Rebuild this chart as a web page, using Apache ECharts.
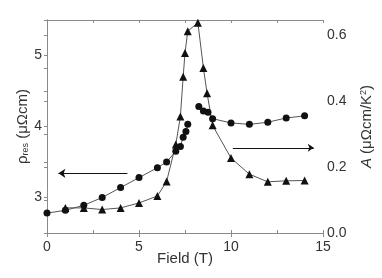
<!DOCTYPE html>
<html>
<head>
<meta charset="utf-8">
<script src="https://cdn.jsdelivr.net/npm/echarts@6/dist/echarts.min.js"></script>
<style>html,body{margin:0;padding:0;background:#fff;}#c{width:382px;height:278px;}</style>
</head>
<body>
<div id="c"></div>
<script>
// Residual resistivity (left axis, circles)
const fieldRho = [0, 1, 2, 3, 4, 5, 6, 6.5, 7, 7.25, 7.4, 7.55, 7.65, 7.9, 8.25, 8.5, 8.75, 9, 10, 11, 12, 13, 14];
const rhoRes   = [2.78, 2.82, 2.89, 3.00, 3.14, 3.28, 3.42, 3.50, 3.65, 3.72, 3.85, 3.93, 4.03, null, 4.28, 4.22, 4.20, 4.11, 4.05, 4.03, 4.06, 4.12, 4.15];
// Coefficient A (right axis, triangles)
const fieldA = [1, 2, 3, 4, 5, 6, 6.5, 7, 7.25, 7.4, 7.5, 7.65, 8.2, 8.5, 8.7, 9, 10, 11, 12, 13, 14];
const coefA  = [0.076, 0.076, 0.071, 0.076, 0.091, 0.112, 0.156, 0.268, 0.353, 0.473, 0.545, 0.611, 0.637, 0.500, 0.423, 0.326, 0.227, 0.178, 0.155, 0.158, 0.159];
// Arrows: [xStart, xEnd, y]
const arrowLeft  = [4.37, 0.62, 3.34];
const arrowRight = [10.1, 14.5, 0.258];
// Axis ranges / ticks
const xTicks = [0, 15, 5];
const yLeftRange = [2.5, 5.5, 0.5];
const yRightRange = [0, 0.645, 0.1];

const FONT = "'Liberation Sans', Arial, sans-serif";
const AX = '#8a8a8a';
const TXT = '#333';

const rhoData = fieldRho.map((x, i) => [x, rhoRes[i] === null ? '-' : rhoRes[i]]);
const aData = fieldA.map((x, i) => [x, coefA[i]]);

const chart = echarts.init(document.getElementById('c'), null, {renderer: 'canvas'});
chart.setOption({
  animation: false,
  backgroundColor: '#fff',
  grid: {left: 47, right: 54, top: 20, bottom: 45, containLabel: false},
  xAxis: [
    {
      type: 'value', min: xTicks[0], max: xTicks[1], interval: xTicks[2], position: 'bottom',
      name: 'Field (T)', nameLocation: 'middle', nameGap: 18, nameMoveOverlap: false,
      nameTextStyle: {color: TXT, fontSize: 15, fontFamily: FONT},
      axisLine: {lineStyle: {color: AX, width: 1}},
      axisTick: {show: true, inside: false, length: 4, lineStyle: {color: AX}},
      axisLabel: {color: TXT, fontSize: 14, fontFamily: FONT, margin: 7},
      splitLine: {show: false}
    },
    {
      type: 'value', min: xTicks[0], max: xTicks[1], interval: 2.5, position: 'bottom',
      axisLine: {show: false},
      axisTick: {show: true, inside: true, length: 3, lineStyle: {color: AX}},
      axisLabel: {show: false}, splitLine: {show: false}
    },
    {
      type: 'value', min: xTicks[0], max: xTicks[1], interval: 2.5, position: 'top',
      axisLine: {show: true, lineStyle: {color: AX, width: 1}},
      axisTick: {show: true, inside: true, length: 3, lineStyle: {color: AX}},
      axisLabel: {show: false}, splitLine: {show: false}
    }
  ],
  yAxis: [
    {
      type: 'value', min: yLeftRange[0], max: yLeftRange[1], interval: yLeftRange[2], position: 'left',
      name: 'ρ{sub|res} (μΩcm)', nameLocation: 'middle', nameGap: 17, nameRotate: 90, nameMoveOverlap: false,
      nameTextStyle: {color: TXT, fontSize: 15, fontFamily: FONT,
        rich: {sub: {fontSize: 9, fontFamily: FONT, color: TXT, verticalAlign: 'bottom', padding: [6, 0, 0, 0]}}},
      axisLine: {show: true, lineStyle: {color: AX, width: 1}},
      axisTick: {show: true, inside: false, length: 3, lineStyle: {color: AX}},
      axisLabel: {color: TXT, fontSize: 14, fontFamily: FONT, margin: 5,
        formatter: v => Math.abs(v - Math.round(v)) < 1e-6 ? String(Math.round(v)) : ''},
      splitLine: {show: false}
    },
    {
      type: 'value', min: yRightRange[0], max: yRightRange[1], interval: yRightRange[2], position: 'right',
      name: '{i|A} (μΩcm/K{sup|2})', nameLocation: 'middle', nameGap: 36, nameRotate: 90, nameMoveOverlap: false,
      nameTextStyle: {color: TXT, fontSize: 15, fontFamily: FONT,
        rich: {
          i: {fontStyle: 'italic', fontSize: 15, fontFamily: FONT, color: TXT},
          sup: {fontSize: 9, fontFamily: FONT, color: TXT, verticalAlign: 'top', padding: [0, 0, 6, 0]}
        }},
      axisLine: {show: true, lineStyle: {color: AX, width: 1}},
      axisTick: {show: true, inside: true, length: 3, lineStyle: {color: AX}},
      axisLabel: {color: TXT, fontSize: 14, fontFamily: FONT, margin: 4,
        formatter: v => {
          const k = Math.round(v * 10);
          if (Math.abs(v * 10 - k) > 1e-6) return '';
          return k % 2 === 0 ? v.toFixed(1) : '';
        }},
      splitLine: {show: false}
    }
  ],
  series: [
    {
      type: 'line', xAxisIndex: 0, yAxisIndex: 0, data: rhoData, connectNulls: false,
      symbol: 'circle', symbolSize: 7,
      itemStyle: {color: '#111'},
      lineStyle: {color: '#555', width: 1},
      markLine: {
        silent: true, symbol: ['none', 'arrow'], symbolSize: 7,
        label: {show: false},
        lineStyle: {color: '#111', width: 1, type: 'solid'},
        data: [[{coord: [arrowLeft[0], arrowLeft[2]]}, {coord: [arrowLeft[1], arrowLeft[2]]}]]
      }
    },
    {
      type: 'line', xAxisIndex: 0, yAxisIndex: 1, data: aData,
      symbol: 'triangle', symbolSize: 8,
      itemStyle: {color: '#111'},
      lineStyle: {color: '#555', width: 1},
      markLine: {
        silent: true, symbol: ['none', 'arrow'], symbolSize: 6,
        label: {show: false},
        lineStyle: {color: '#111', width: 1, type: 'solid'},
        data: [[{coord: [arrowRight[0], arrowRight[2]]}, {coord: [arrowRight[1], arrowRight[2]]}]]
      }
    }
  ]
});
</script>
</body>
</html>
